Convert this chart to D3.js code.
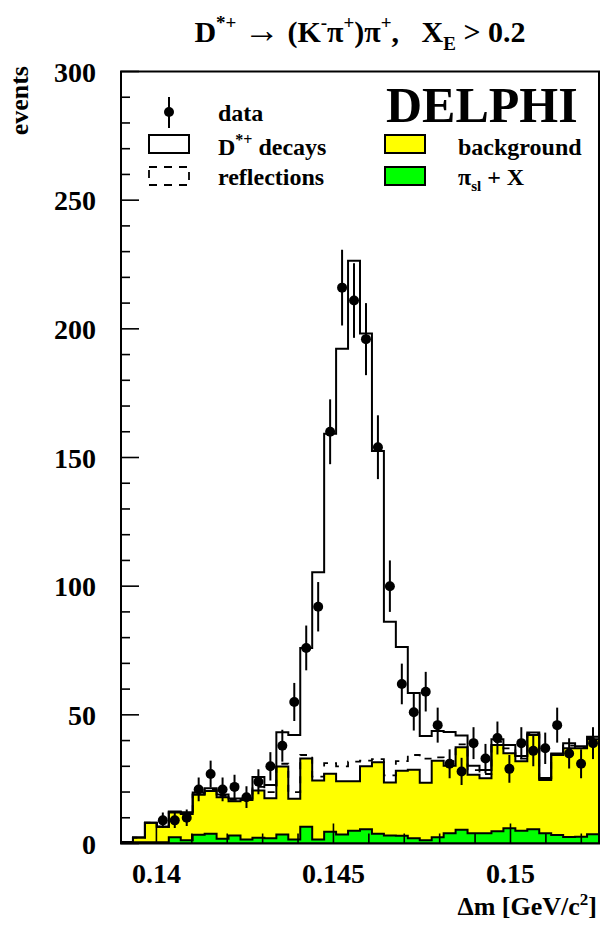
<!DOCTYPE html>
<html>
<head>
<meta charset="utf-8">
<script src="https://cdn.jsdelivr.net/npm/d3@7/dist/d3.min.js"></script>
<style>
  body { margin: 0; background: #fff; }
  text { font-family: "Liberation Serif", "Times New Roman", serif; font-weight: bold; fill: #000; }
</style>
</head>
<body>
<div id="chart"></div>
<script>
(function(){
    "use strict";

    // histogram binning (40 bins of delta m)
    var binLow = 0.139, binWidth = 0.0003375;

    // data points (bins 0-2 empty)
    var dataVal = [null,null,null,9,9,10,21,27,21,22,18,24,30,38,55,76,92,160,216,211,
                   196,154,100,62,51,59,46,31,28,39,33,41,29,39,36,37,46,35,31,39];
    var dataErr = [0,0,0,3,3,3.2,4.6,5.2,4.6,4.7,4.2,4.9,5.5,6.2,7.4,8.7,9.6,12.6,14.7,14.5,
                   14,12.4,10,7.9,7.1,7.7,6.8,5.6,5.3,6.2,5.7,6.4,5.4,6.2,6,6.1,6.8,5.9,5.6,6.2];

    // D*+ decays (total, solid line)
    var dstarTotal = [0.6,2.3,8.1,6.5,12.4,12.1,19.8,21.5,19,17.5,17.5,25.8,22.7,43.2,42.2,76,105.4,159.2,192.3,226.5,
                      198.2,152.5,86.2,76.4,58.5,41.8,43.7,43.3,42,30.2,28.6,40.5,38.3,34,43.1,25.5,35,39,37.8,41.5];
    // reflections (dashed line, stacked on background)
    var reflections = [0.5,2.3,8.1,6.5,12.2,11.8,19.2,21,18.5,17,17.2,22,20,31,20,34.4,26,31.2,30,31.8,
                       32.2,32.8,26.5,32,34.4,33,33.5,32,38.5,28.5,27,39.5,37,33,42.7,25,34.7,38,37.4,41];
    // background (yellow)
    var background = [0.5,2.3,8.1,6.5,12,11.5,18.9,20.4,18,16.4,16.9,20.6,17.6,29.9,17.4,33,24.5,27.1,24.2,24.2,
                      30,31.6,23.7,28.3,28.7,23.6,32.2,30.2,37.4,26.7,25.4,38.3,35.1,32,42.2,24.7,34.4,37,37,40.5];
    // pi_sl + X (green)
    var piSlX = [0.3,0.5,0.5,0.5,2.4,1.3,3.4,3.8,1.8,3.1,1.6,2.2,2,3.5,1.6,6.5,1.6,4.6,3.5,5,
                 5.5,3.8,3.1,3,2,1.3,2.4,4,5.3,4,4,4.8,5.9,5,5.5,4,3.3,2.5,2.6,3.6];

    var xTicks = [0.14, 0.145, 0.15];
    var xMinor = [0.139,0.141,0.142,0.143,0.144,0.146,0.147,0.148,0.149,0.151,0.152];
    var yTicks = [0, 50, 100, 150, 200, 250, 300];

    var W = 600, H = 926;
    var left = 121, right = 599, top = 71.5, bottom = 843.5;

    var x = d3.scaleLinear().domain([0.139, 0.1525]).range([left, right]);
    var y = d3.scaleLinear().domain([0, 300]).range([bottom, top]);

    var svg = d3.select("#chart").append("svg")
        .attr("width", W).attr("height", H);

    svg.append("defs").append("clipPath").attr("id", "plotclip")
        .append("rect").attr("x", left).attr("y", top)
        .attr("width", right - left).attr("height", bottom - top);

    var plot = svg.append("g").attr("clip-path", "url(#plotclip)");

    function steps(vals) {
        var pts = vals.map(function(v, i) { return [binLow + i * binWidth, v]; });
        pts.push([binLow + vals.length * binWidth, vals[vals.length - 1]]);
        return pts;
    }
    var line = d3.line().x(function(d){ return x(d[0]); }).y(function(d){ return y(d[1]); })
        .curve(d3.curveStepAfter);
    var area = d3.area().x(function(d){ return x(d[0]); }).y0(y(0)).y1(function(d){ return y(d[1]); })
        .curve(d3.curveStepAfter);

    // yellow background
    plot.append("path").datum(steps(background))
        .attr("d", area).attr("fill", "#ffff00")
        .attr("stroke", "#000").attr("stroke-width", 2);
    // green pi_sl + X
    plot.append("path").datum(steps(piSlX))
        .attr("d", area).attr("fill", "#00ff00")
        .attr("stroke", "#000").attr("stroke-width", 2);
    // reflections, dashed
    plot.append("path").datum(steps(reflections))
        .attr("d", line).attr("fill", "none")
        .attr("stroke", "#000").attr("stroke-width", 1.8)
        .attr("stroke-dasharray", "7,7");
    // D*+ decays, solid
    plot.append("path").datum(steps(dstarTotal))
        .attr("d", line).attr("fill", "none")
        .attr("stroke", "#000").attr("stroke-width", 2);

    // data points
    var pts = dataVal.map(function(v, i) {
        return { x: binLow + (i + 0.5) * binWidth, v: v, e: dataErr[i] };
    }).filter(function(d){ return d.v !== null; });

    plot.selectAll(".err").data(pts).enter().append("line")
        .attr("x1", function(d){ return x(d.x); }).attr("x2", function(d){ return x(d.x); })
        .attr("y1", function(d){ return y(d.v - d.e); }).attr("y2", function(d){ return y(d.v + d.e); })
        .attr("stroke", "#000").attr("stroke-width", 2);
    plot.selectAll(".dot").data(pts).enter().append("circle")
        .attr("cx", function(d){ return x(d.x); }).attr("cy", function(d){ return y(d.v); })
        .attr("r", 5).attr("fill", "#000");

    // frame
    svg.append("rect").attr("x", left).attr("y", top)
        .attr("width", right - left).attr("height", bottom - top)
        .attr("fill", "none").attr("stroke", "#000").attr("stroke-width", 2);

    // y axis ticks (inside)
    var yMinor = d3.range(0, 301, 10);
    svg.selectAll(".ytk").data(yMinor).enter().append("line")
        .attr("x1", left).attr("x2", function(d){ return left + (d % 50 === 0 ? 18 : 9); })
        .attr("y1", function(d){ return y(d); }).attr("y2", function(d){ return y(d); })
        .attr("stroke", "#000").attr("stroke-width", 1.6);
    svg.selectAll(".ylab").data(yTicks).enter().append("text")
        .attr("x", 96).attr("y", function(d){ return y(d) + 10; })
        .attr("text-anchor", "end").attr("font-size", 28)
        .text(function(d){ return d; });

    // x axis ticks (inside)
    svg.selectAll(".xtk").data(xTicks.concat(xMinor)).enter().append("line")
        .attr("x1", function(d){ return x(d); }).attr("x2", function(d){ return x(d); })
        .attr("y1", bottom).attr("y2", function(d){ return bottom - (xTicks.indexOf(d) >= 0 ? 20 : 10); })
        .attr("stroke", "#000").attr("stroke-width", 1.6);
    svg.selectAll(".xlab").data(xTicks).enter().append("text")
        .attr("x", function(d){ return x(d); }).attr("y", 883)
        .attr("text-anchor", "middle").attr("font-size", 28)
        .text(function(d){ return d; });

    // axis titles
    var xt = svg.append("text").attr("x", 597).attr("y", 915)
        .attr("text-anchor", "end").attr("font-size", 26);
    xt.append("tspan").text("\u0394m [GeV/c");
    xt.append("tspan").attr("dy", -10).attr("font-size", 17).text("2");
    xt.append("tspan").attr("dy", 10).text("]");

    svg.append("text").attr("transform", "translate(28,66) rotate(-90)")
        .attr("text-anchor", "end").attr("font-size", 26).text("events");

    // title
    var t = svg.append("text").attr("x", 360).attr("y", 42)
        .attr("text-anchor", "middle").attr("font-size", 30);
    t.append("tspan").text("D");
    t.append("tspan").attr("dy", -13).attr("font-size", 19).text("*+");
    t.append("tspan").attr("dy", 13).text(" ");
    t.append("tspan").attr("font-size", 36).attr("font-weight", "normal").text("\u2192");
    t.append("tspan").text(" (K");
    t.append("tspan").attr("dy", -13).attr("font-size", 19).text("-");
    t.append("tspan").attr("dy", 13).text("\u03c0");
    t.append("tspan").attr("dy", -13).attr("font-size", 19).text("+");
    t.append("tspan").attr("dy", 13).text(")\u03c0");
    t.append("tspan").attr("dy", -13).attr("font-size", 19).text("+");
    t.append("tspan").attr("dy", 13).text(",\u00a0\u00a0\u00a0X");
    t.append("tspan").attr("dy", 8).attr("font-size", 19).text("E");
    t.append("tspan").attr("dy", -8).text(" > 0.2");

    // DELPHI label
    svg.append("text").attr("x", 386).attr("y", 122)
        .attr("font-size", 50).text("DELPHI");

    // legend
    var lg = svg.append("g");
    lg.append("line").attr("x1", 169).attr("x2", 169).attr("y1", 97).attr("y2", 128)
        .attr("stroke", "#000").attr("stroke-width", 2);
    lg.append("circle").attr("cx", 169).attr("cy", 112).attr("r", 5).attr("fill", "#000");
    lg.append("rect").attr("x", 149).attr("y", 135).attr("width", 40).attr("height", 18)
        .attr("fill", "none").attr("stroke", "#000").attr("stroke-width", 2);
    lg.append("rect").attr("x", 149).attr("y", 167).attr("width", 40).attr("height", 18)
        .attr("fill", "none").attr("stroke", "#000").attr("stroke-width", 1.8)
        .attr("stroke-dasharray", "8,7");
    lg.append("rect").attr("x", 385).attr("y", 135).attr("width", 40).attr("height", 18)
        .attr("fill", "#ffff00").attr("stroke", "#000").attr("stroke-width", 2);
    lg.append("rect").attr("x", 385).attr("y", 167).attr("width", 40).attr("height", 18)
        .attr("fill", "#00ff00").attr("stroke", "#000").attr("stroke-width", 2);

    lg.append("text").attr("x", 218).attr("y", 121).attr("font-size", 24).text("data");
    var ld = lg.append("text").attr("x", 218).attr("y", 155).attr("font-size", 24);
    ld.append("tspan").text("D");
    ld.append("tspan").attr("dy", -10).attr("font-size", 16).text("*+");
    ld.append("tspan").attr("dy", 10).text(" decays");
    lg.append("text").attr("x", 218).attr("y", 185).attr("font-size", 24).text("reflections");
    lg.append("text").attr("x", 458).attr("y", 155).attr("font-size", 24).text("background");
    var lp = lg.append("text").attr("x", 458).attr("y", 185).attr("font-size", 24);
    lp.append("tspan").text("\u03c0");
    lp.append("tspan").attr("dy", 6).attr("font-size", 15).text("sl");
    lp.append("tspan").attr("dy", -6).text(" + X");
})();
</script>
</body>
</html>
